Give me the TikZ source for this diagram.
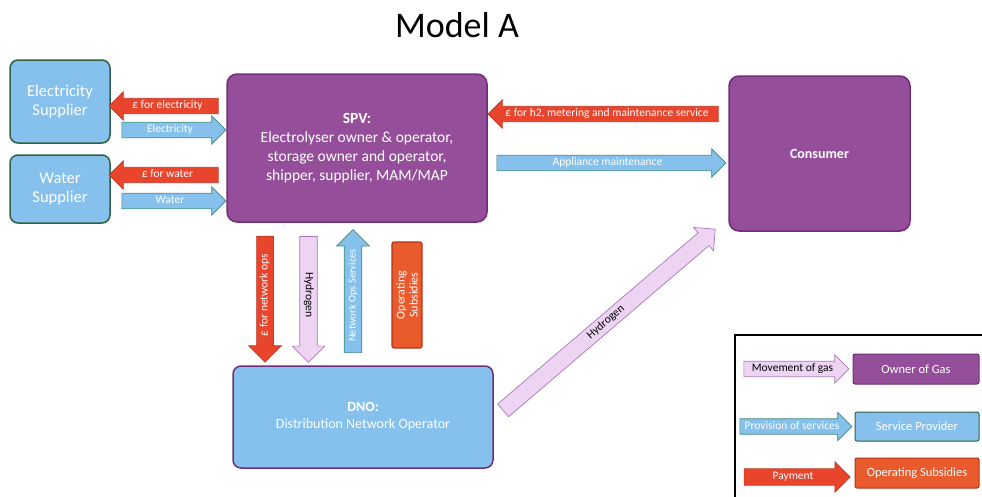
\documentclass[tikz,border=0pt]{standalone}
\usepackage{fontspec}
\setmainfont{Carlito}
\usetikzlibrary{shapes.arrows}

\definecolor{boxblue}{RGB}{133,193,236}
\definecolor{edgegreen}{RGB}{46,98,68}
\definecolor{ownpurple}{RGB}{149,79,154}
\definecolor{edgepurple}{RGB}{110,47,120}
\definecolor{payred}{RGB}{232,69,44}
\definecolor{edgered}{RGB}{190,55,35}
\definecolor{subsorange}{RGB}{233,90,45}
\definecolor{edgeorange}{RGB}{178,52,28}
\definecolor{gaslilac}{RGB}{236,212,242}
\definecolor{edgelilac}{RGB}{170,120,182}
\definecolor{edgeteal}{RGB}{62,138,120}

\begin{document}
\begin{tikzpicture}[x=1pt,y=-1pt]
\tikzstyle{every node}=[text=white, align=center]
\tikzstyle{bluebox}=[draw=edgegreen, line width=1.5pt, fill=boxblue, rounded corners=8pt, font=\fontsize{16.5}{19}\selectfont]
\tikzstyle{gasbox}=[draw=edgepurple, line width=1.5pt, fill=ownpurple, rounded corners=10pt]
\tikzstyle{arrowbox}=[single arrow, draw, line width=0.7pt, inner xsep=1pt, inner ysep=2.5pt, text height=7.5pt, text depth=2.2pt, single arrow head extend=6.5pt, font=\fontsize{11.5}{13}\selectfont]
\tikzstyle{payarrow}=[arrowbox, fill=payred, draw=edgered]
\tikzstyle{servarrow}=[arrowbox, fill=boxblue, draw=edgeteal]
\tikzstyle{gasarrow}=[arrowbox, fill=gaslilac, draw=edgelilac, text=black]

\useasboundingbox (0,0) rectangle (982,496);

\node (title) at (457,25) [text=black, font=\fontsize{36}{40}\selectfont] {Model A};

% parties
\node (elec) at (60,101.5) [bluebox, minimum width=100, minimum height=83] {Electricity\\Supplier};
\node (water) at (60,189) [bluebox, minimum width=100, minimum height=68] {Water\\Supplier};
\node (spv) at (357,148) [gasbox, minimum width=260, minimum height=148, font=\fontsize{15.5}{19}\selectfont]
  {\textbf{SPV:}\\Electrolyser owner \& operator,\\storage owner and operator,\\shipper, supplier, MAM/MAP};
\node (consumer) at (819.5,153.5) [gasbox, minimum width=181, minimum height=155, font=\fontsize{14}{17}\selectfont\bfseries] {Consumer};
\node (dno) at (363,417) [bluebox, draw=edgepurple, minimum width=260, minimum height=102, font=\fontsize{14}{17}\selectfont]
  {\textbf{DNO:}\\Distribution Network Operator};
\node (subsidy) at (407,295) [rotate=90, draw=edgeorange, line width=1.2pt, fill=subsorange, rounded corners=2pt, minimum width=106, minimum height=30, inner sep=1pt, font=\fontsize{12}{13}\selectfont]
  {Operating\\Subsidies};

% flows between suppliers and SPV
\node (payelec) at (167.5,106) [payarrow, shape border rotate=180, minimum height=109] {£ for electricity};
\node (elecflow) at (170,130) [servarrow, minimum height=104] {Electricity};
\node (paywater) at (167.5,175) [payarrow, shape border rotate=180, minimum height=109] {£ for water};
\node (waterflow) at (170,201) [servarrow, minimum height=104] {Water};

% flows between SPV and consumer
\node (payhtwo) at (607,114) [payarrow, shape border rotate=180, minimum height=230] {£ for h2, metering and maintenance service};
\node (appliance) at (607.5,163) [servarrow, minimum height=229] {Appliance maintenance};

% flows between SPV and DNO
\node (paynet) at (265,295) [payarrow, shape border rotate=180, rotate=90, minimum height=126, inner ysep=3.2pt, single arrow head extend=8pt] {£ for network ops};
\node (hydnet) at (308.5,295) [gasarrow, rotate=-90, minimum height=126, inner ysep=3.6pt, single arrow head extend=7.5pt] {Hydrogen};
\node (netops) at (353,295.5) [servarrow, rotate=90, minimum height=123, inner ysep=3.6pt, single arrow head extend=7.5pt, font=\fontsize{10.5}{12}\selectfont] {Network Ops Services};

% hydrogen to consumer
\node (hydcons) at (606,322.5) [gasarrow, rotate=40.5, minimum height=279, inner ysep=3.2pt, single arrow head extend=7pt] {Hydrogen};

% legend
\draw[line width=2.5pt] (735,335) rectangle (995,505);
\node (gasleg) at (792.5,369) [gasarrow, minimum height=105] {Movement of gas};
\node (ownleg) at (916,369) [gasbox, line width=1pt, rounded corners=2pt, minimum width=126, minimum height=30, font=\fontsize{12.5}{14}\selectfont] {Owner of Gas};
\node (servleg) at (792,426.5) [servarrow, minimum height=112] {Provision of services};
\node (provleg) at (917,426.5) [bluebox, line width=1pt, rounded corners=2pt, minimum width=124, minimum height=29, font=\fontsize{12.5}{14}\selectfont] {Service Provider};
\node (payleg) at (793,477) [payarrow, minimum height=106, inner ysep=3pt, single arrow head extend=7pt] {Payment};
\node (subleg) at (917,473) [draw=edgeorange, line width=1pt, fill=subsorange, rounded corners=2pt, minimum width=124, minimum height=30, font=\fontsize{12.5}{14}\selectfont] {Operating Subsidies};
\end{tikzpicture}
\end{document}
